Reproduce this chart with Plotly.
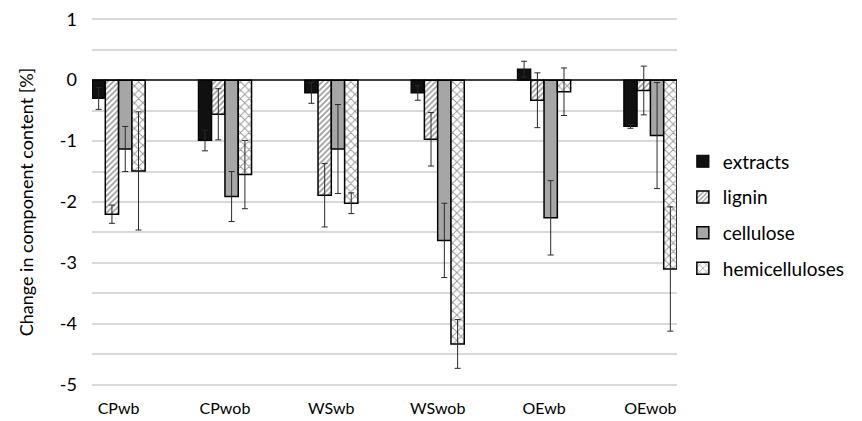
import plotly.graph_objects as go

categories = ["CPwb", "CPwob", "WSwb", "WSwob", "OEwb", "OEwob"]
extracts = [-0.30, -0.99, -0.21, -0.21, 0.18, -0.76]
extracts_err = [0.18, 0.17, 0.17, 0.12, 0.13, 0.03]
lignin = [-2.20, -0.56, -1.89, -0.97, -0.33, -0.17]
lignin_err = [0.15, 0.42, 0.52, 0.44, 0.45, 0.40]
cellulose = [-1.13, -1.91, -1.13, -2.63, -2.26, -0.91]
cellulose_err = [0.37, 0.41, 0.73, 0.61, 0.61, 0.87]
hemicelluloses = [-1.49, -1.55, -2.02, -4.33, -0.19, -3.10]
hemicelluloses_err = [0.97, 0.56, 0.17, 0.40, 0.39, 1.02]
y_tick_vals = [1, 0, -1, -2, -3, -4, -5]
y_tick_text = ["1", "0", "-1", "-2", "-3", "-4", "-5"]

FONT = "Lato"
err_style = dict(type="data", symmetric=True, color="#2a2a2a", thickness=1, width=3)

series = [
    ("extracts", extracts, extracts_err, dict(color="#101010", line=dict(color="#000000", width=1.2))),
    ("lignin", lignin, lignin_err, dict(color="white", line=dict(color="#000000", width=1.5),
                                        pattern=dict(shape="/", fgcolor="#333333", bgcolor="white", size=4, solidity=0.4))),
    ("cellulose", cellulose, cellulose_err, dict(color="#a6a6a6", line=dict(color="#000000", width=1.5))),
    ("hemicelluloses", hemicelluloses, hemicelluloses_err, dict(color="white", line=dict(color="#000000", width=1.5),
                                        pattern=dict(shape="x", fgcolor="#3a3a3a", bgcolor="white", size=6, solidity=0.3))),
]

fig = go.Figure()
for i, (name, vals, errs, marker) in enumerate(series):
    fig.add_trace(go.Bar(
        x=list(range(len(categories))), y=vals, name=name, marker=marker,
        error_y=dict(array=errs, **err_style), legendgroup=f"g{i}",
    ))

fig.update_layout(
    width=862, height=421,
    margin=dict(l=92, r=185, t=18, b=35),
    paper_bgcolor="white", plot_bgcolor="white",
    barmode="group", bargap=0.5, bargroupgap=0,
    font=dict(family=FONT, size=17, color="#000000"),
    showlegend=True,
    legend=dict(x=1.01, xanchor="left", y=0.465, yanchor="middle",
                font=dict(family=FONT, size=19, color="#000000"),
                traceorder="grouped", tracegroupgap=8, itemwidth=30),
    xaxis=dict(
        tickmode="array", tickvals=list(range(len(categories))), ticktext=categories,
        range=[-0.25, 5.25], showgrid=False, zeroline=False, showline=False,
        ticks="", tickfont=dict(family=FONT, size=16), ticklabelstandoff=11,
        automargin=False,
    ),
    yaxis=dict(
        range=[-5.02, 1.02], tickmode="array", tickvals=y_tick_vals, ticktext=y_tick_text,
        showgrid=True, gridcolor="#d9d9d9", gridwidth=1.5,
        minor=dict(dtick=0.5, tick0=0, showgrid=True, gridcolor="#d9d9d9", gridwidth=1.5),
        zeroline=True, zerolinecolor="#404040", zerolinewidth=1.5,
        showline=False, ticks="", tickfont=dict(family=FONT, size=18),
        ticklabelstandoff=14, automargin=False,
        title=dict(text="Change in component content [%]", font=dict(family=FONT, size=18), standoff=21),
    ),
)

fig.write_html("out.html", config={"displayModeBar": False},
               post_script="document.body.style.margin='0px';")
